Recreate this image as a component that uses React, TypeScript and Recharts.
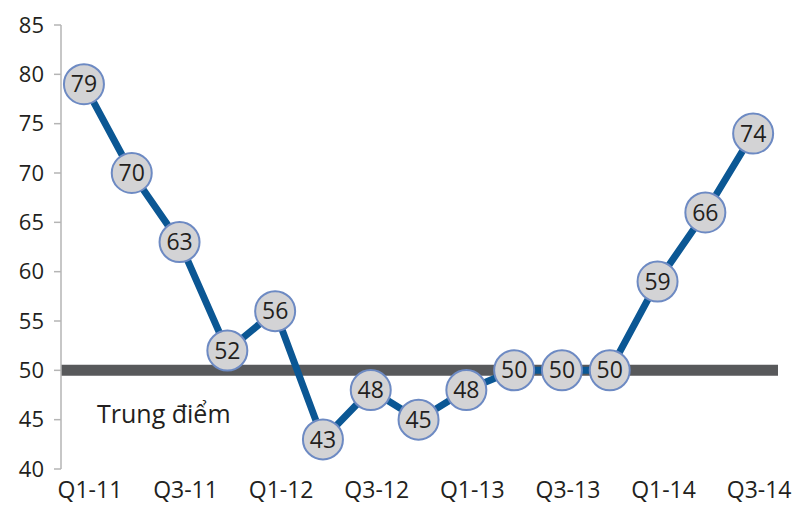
import React from "react";
import { LabelList, Line, LineChart, ReferenceLine, XAxis, YAxis } from "recharts";

const quarters = [
  "Q1-11", "Q2-11", "Q3-11", "Q4-11", "Q1-12", "Q2-12", "Q3-12", "Q4-12",
  "Q1-13", "Q2-13", "Q3-13", "Q4-13", "Q1-14", "Q2-14", "Q3-14",
];
const values = [79, 70, 63, 52, 56, 43, 48, 45, 48, 50, 50, 50, 59, 66, 74];
const yTicks = [40, 45, 50, 55, 60, 65, 70, 75, 80, 85];
const xTicks = [0, 2, 4, 6, 8, 10, 12, 14];
const midpoint = 50;
const midpointLabel = "Trung điểm";

const data = values.map((v, i) => ({ idx: i, label: quarters[i], value: v }));

const FONT = "'Open Sans', sans-serif";

function Bubble(props: any) {
  const { cx, cy } = props;
  if (cx == null || cy == null) return null;
  return <circle cx={cx} cy={cy} r={20} fill="#d3d3d5" stroke="#6d8ac3" strokeWidth={2} />;
}

export default function App() {
  return (
    <div style={{ position: "absolute", left: 0, top: 0, width: 800, height: 508, background: "#fff", fontFamily: FONT }}>
      <LineChart width={800} height={508} data={data} margin={{ top: 25, right: 22, left: 0, bottom: 0 }}>
        <XAxis
          dataKey="idx"
          type="number"
          domain={[-0.48, 14.52]}
          ticks={xTicks}
          tickFormatter={(i: number) => quarters[i]}
          axisLine={false}
          tickLine={false}
          tickSize={0}
          tickMargin={13}
          height={39}
          tick={{ fill: "#231f20", fontSize: 23, fontFamily: FONT, dx: 6 }}
          interval={0}
        />
        <YAxis
          domain={[40, 85]}
          ticks={yTicks}
          interval={0}
          width={61}
          axisLine={{ stroke: "#b5b5b5", strokeWidth: 1.5 }}
          tickLine={{ stroke: "#b5b5b5", strokeWidth: 1.5 }}
          tickSize={7}
          tickMargin={10}
          tick={{ fill: "#231f20", fontSize: 22, fontFamily: FONT }}
        />
        <ReferenceLine y={midpoint} stroke="#58595b" strokeWidth={11} />
        <Line
          dataKey="value"
          stroke="#0b5794"
          strokeWidth={7}
          dot={<Bubble />}
          activeDot={false}
          isAnimationActive={false}
        >
          <LabelList
            dataKey="value"
            position="center"
            fill="#231f20"
            fontSize={23}
            fontFamily={FONT}
          />
        </Line>
      </LineChart>
      <div
        style={{
          position: "absolute",
          left: 97,
          top: 396,
          fontSize: 25,
          lineHeight: "34px",
          color: "#231f20",
          whiteSpace: "nowrap",
        }}
      >
        {midpointLabel}
      </div>
    </div>
  );
}
